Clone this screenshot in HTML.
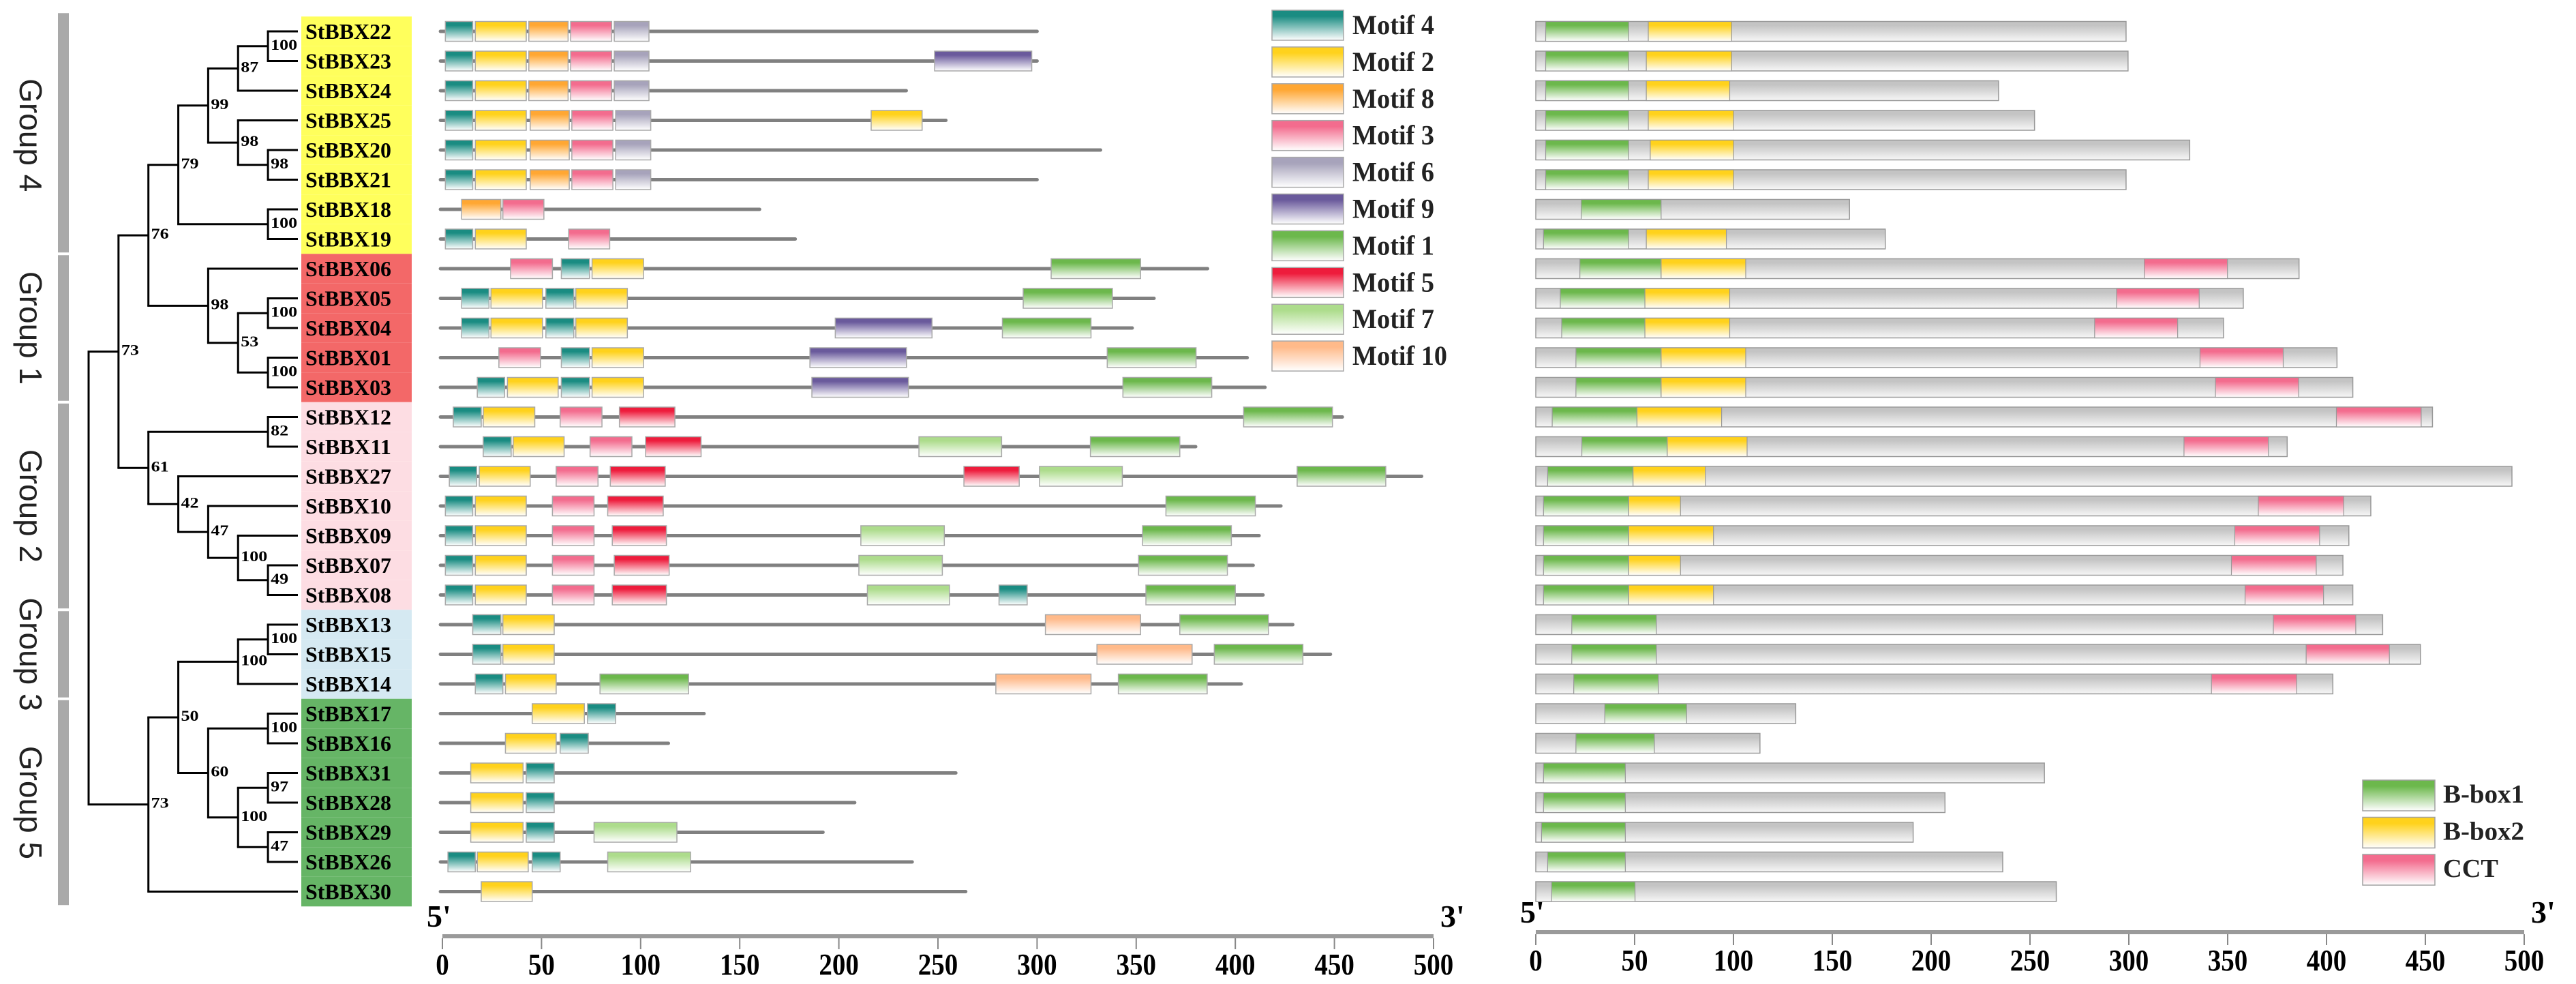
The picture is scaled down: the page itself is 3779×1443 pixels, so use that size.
<!DOCTYPE html>
<html><head><meta charset="utf-8">
<style>
html,body{margin:0;padding:0;background:#fff;}
svg{display:block;}
text{font-family:"Liberation Serif",serif;font-weight:bold;}
.sans{font-family:"Liberation Sans",sans-serif;font-weight:normal;}
</style></head>
<body>
<svg id="fig" xmlns="http://www.w3.org/2000/svg" width="3779" height="1443" viewBox="0 0 3779 1443">
<defs id="defs"></defs>
<g id="groups"></g>
<g id="tree"></g>
<g id="labels"></g>
<g id="left"></g>
<g id="right"></g>
<g id="legend"></g>
<g id="axes"></g>
</svg>
<script>
const genes = ["StBBX22","StBBX23","StBBX24","StBBX25","StBBX20","StBBX21","StBBX18","StBBX19","StBBX06","StBBX05","StBBX04","StBBX01","StBBX03","StBBX12","StBBX11","StBBX27","StBBX10","StBBX09","StBBX07","StBBX08","StBBX13","StBBX15","StBBX14","StBBX17","StBBX16","StBBX31","StBBX28","StBBX29","StBBX26","StBBX30"];
const geneGroup = [4,4,4,4,4,4,4,4,1,1,1,1,1,2,2,2,2,2,2,2,3,3,3,5,5,5,5,5,5,5];
const groupNames = ["Group 4","Group 1","Group 2","Group 3","Group 5"];
const groupIds = [4,1,2,3,5];
const motifLen = [300,300,234,254,332,300,160,178,386,359,348,406,415,454,380,494,423,412,409,414,429,448,403,132,114,259,208,192,237,264];
const motifs = [
 [[4,1.5,15.3],[2,16.6,42.3],[8,43.6,63.4],[3,64.7,85.4],[6,86.7,104.2]],
 [[4,1.5,15.3],[2,16.6,42.3],[8,43.6,63.4],[3,64.7,85.4],[6,86.7,104.2],[9,248.3,297.3]],
 [[4,1.5,15.3],[2,16.6,42.3],[8,43.6,63.4],[3,64.7,85.4],[6,86.7,104.2]],
 [[4,1.5,15.3],[2,16.6,42.3],[8,44.3,64],[3,65.3,86],[6,87.4,105.1],[2,216.3,242]],
 [[4,1.5,15.3],[2,16.6,42.3],[8,44.3,64],[3,65.3,86],[6,87.4,105.1]],
 [[4,1.5,15.3],[2,16.6,42.3],[8,44.3,64],[3,65.3,86],[6,87.4,105.1]],
 [[8,9.7,29.5],[3,30.5,51.2]],
 [[4,1.5,15.3],[2,16.6,42.3],[3,63.7,84.4]],
 [[3,34.4,55.5],[4,60,74.2],[2,75.5,101.5],[1,307.1,352.2]],
 [[4,9.7,23.5],[2,24.5,50.5],[4,52.2,66.3],[2,67.3,93.3],[1,293,338]],
 [[4,9.7,23.5],[2,24.5,50.5],[4,52.2,66.3],[2,67.3,93.3],[9,198.2,247],[1,282.5,327.2]],
 [[3,28.5,49.5],[4,60,74.2],[2,75.5,101.5],[9,185.4,234.1],[1,335.4,380.2]],
 [[4,17.6,31.4],[2,32.8,58.4],[4,60,74.2],[2,75.5,101.5],[9,186.4,235.1],[1,343.3,388.1]],
 [[4,5.5,19.6],[2,20.6,46.6],[3,59.4,80.5],[5,89.3,117.3],[1,404.2,449]],
 [[4,20.6,34.7],[2,35.7,61.4],[3,74.5,95.6],[5,102.5,130.5],[7,240.4,282.1],[1,326.9,372]],
 [[4,3.5,17.3],[2,18.6,44.3],[3,57.4,78.5],[5,84.7,112.4],[5,263.1,291],[7,301.2,343],[1,431.2,475.9]],
 [[4,1.5,15.3],[2,16.6,42.3],[3,55.5,76.5],[5,83.4,111.4],[1,365,410.1]],
 [[4,1.5,15.3],[2,16.6,42.3],[3,55.5,76.5],[5,85.7,113],[7,211.1,253.2],[1,353.2,398]],
 [[4,1.5,15.3],[2,16.6,42.3],[3,55.5,76.5],[5,86.7,114.4],[7,210.1,252.2],[1,351.2,396]],
 [[4,1.5,15.3],[2,16.6,42.3],[3,55.5,76.5],[5,85.7,113],[7,214.4,255.8],[4,280.8,295],[1,354.9,400]],
 [[4,15.3,29.5],[2,30.5,56.4],[10,304.2,352.2],[1,372,416.7]],
 [[4,15.3,29.5],[2,30.5,56.4],[10,330.2,378.2],[1,389.4,434.1]],
 [[4,16.6,30.5],[2,31.8,57.4],[1,79.5,124.2],[10,279.2,327.2],[1,341,385.8]],
 [[2,45.3,71.6],[4,73.2,87.4]],
 [[2,31.8,57.4],[4,59.4,73.6]],
 [[2,14.3,40.7],[4,42.3,56.4]],
 [[2,14.3,40.7],[4,42.3,56.4]],
 [[2,14.3,40.7],[4,42.3,56.4],[7,76.5,118.3]],
 [[4,2.8,16.6],[2,17.6,43.3],[4,45.3,59.4],[7,83.4,125.2]],
 [[2,19.6,45.3]]
];
const domLen = [298.6,299.6,234.1,252.3,330.8,298.6,158.7,176.8,386.1,357.9,347.9,405.3,413.3,453.6,380.1,493.8,422.4,411.3,408.3,413.3,428.4,447.5,403.2,131.5,113.4,257.3,207,190.9,236.2,263.3];
const domains = [
 [["b1",5.0,47.0],["b2",56.9,99.1]],
 [["b1",5.0,47.0],["b2",55.9,99.1]],
 [["b1",5.0,47.0],["b2",55.9,98.1]],
 [["b1",5.0,47.0],["b2",56.9,100.1]],
 [["b1",5.0,47.0],["b2",57.9,100.1]],
 [["b1",5.0,47.0],["b2",56.9,100.1]],
 [["b1",23.0,63.4]],
 [["b1",3.9,47.0],["b2",55.9,96.4]],
 [["b1",22.3,63.4],["b2",63.4,106.2],["cct",307.8,349.9]],
 [["b1",12.4,55.2],["b2",55.2,98.1],["cct",293.8,335.6]],
 [["b1",13.1,55.2],["b2",55.2,98.1],["cct",282.7,324.7]],
 [["b1",20.3,63.4],["b2",63.4,106.2],["cct",336.0,378.1]],
 [["b1",20.3,63.4],["b2",63.4,106.2],["cct",343.8,385.9]],
 [["b1",8.3,51.2],["b2",51.2,94.0],["cct",405.0,447.9]],
 [["b1",23.3,66.5],["b2",66.5,106.9],["cct",327.9,370.6]],
 [["b1",6.0,49.2],["b2",49.2,85.8]],
 [["b1",3.9,47.0],["b2",47.0,73.2],["cct",365.5,408.7]],
 [["b1",3.9,47.0],["b2",47.0,89.9],["cct",353.6,396.5]],
 [["b1",3.9,47.0],["b2",47.0,73.2],["cct",351.9,394.8]],
 [["b1",3.9,47.0],["b2",47.0,89.9],["cct",358.8,398.5]],
 [["b1",18.2,61.0],["cct",373.1,414.8]],
 [["b1",18.2,61.0],["cct",389.7,431.8]],
 [["b1",19.2,62.0],["cct",341.8,384.9]],
 [["b1",34.9,76.3]],
 [["b1",20.3,60.0]],
 [["b1",3.9,45.3]],
 [["b1",3.9,45.3]],
 [["b1",2.9,45.3]],
 [["b1",6.0,45.3]],
 [["b1",8.0,50.2]]
];
const ticks = [0,50,100,150,200,250,300,350,400,450,500];
const motifLegend = [4,2,8,3,6,9,1,5,7,10];
const domLegend = ["b1","b2","cct"];
const domLegendNames = ["B-box1","B-box2","CCT"];

const NS="http://www.w3.org/2000/svg";
function mk(tag,attrs,parent){const e=document.createElementNS(NS,tag);for(const k in attrs)e.setAttribute(k,attrs[k]);if(parent)parent.appendChild(e);return e;}
const colors={1:"#6cb84c",2:"#ffd21c",3:"#f36c8e",4:"#1a8c82",5:"#ee1c3c",6:"#a7a3bb",7:"#addc8c",8:"#ffa733",9:"#6a5a9c",10:"#ffba8a",b1:"#6cb84c",b2:"#ffd21c",cct:"#f36c8e",bar:"#c4c4c4"};
const defs=document.getElementById('defs');
for(const k in colors){
  const g=mk('linearGradient',{id:'g'+k,x1:0,y1:0,x2:0,y2:1},defs);
  mk('stop',{offset:'0','stop-color':colors[k]},g);
  mk('stop',{offset:'0.2','stop-color':colors[k]},g);
  mk('stop',{offset:'1','stop-color':k==='bar'?'#f7f7f7':'#ffffff'},g);
}
const rowY=i=>46+43.5*i;
const lx=v=>649+2.908*v;
const rx=v=>2253+2.9*v;
const BH=29;

const gG=document.getElementById('groups');
const gL=document.getElementById('labels');
const bg={4:"#ffff5c",1:"#f36868",2:"#fddde3",3:"#d5e9f2",5:"#66b566"};
groupIds.forEach((gid,k)=>{
  const rows=geneGroup.map((g,i)=>g===gid?i:-1).filter(i=>i>=0);
  const y0=rowY(rows[0])-21.75, y1=rowY(rows[rows.length-1])+21.75;
  const bar=mk('rect',{x:85,y:y0+(k===0?-5:2),width:16,height:y1-y0-(k===0?-5:2)-2,fill:'#a9a9a9'},gG);
  
  
  const cy=(y0+y1)/2;
  const t=mk('text',{x:45,y:cy,transform:`rotate(90 45 ${cy})`,'text-anchor':'middle','dominant-baseline':'central','font-size':46,fill:'#222',class:'sans'},gG);
  t.textContent=groupNames[k];
  
  
});
genes.forEach((name,i)=>{
  const r=mk('rect',{x:442,y:rowY(i)-21.75,width:162,height:43.5,fill:bg[geneGroup[i]]},gL);
  
  
  const t=mk('text',{x:448,y:rowY(i)+11,'font-size':32,textLength:126,lengthAdjust:'spacingAndGlyphs',fill:'#000'},gL);
  t.textContent=name;
  
  
});

const K={l:6,b:100,c:[0,1]},I={l:5,b:87,c:[K,2]},L={l:6,b:98,c:[4,5]},J={l:5,b:98,c:[3,L]},G={l:4,b:99,c:[I,J]},H={l:6,b:100,c:[6,7]},E={l:3,b:79,c:[G,H]};
const N={l:6,b:100,c:[9,10]},O={l:6,b:100,c:[11,12]},M={l:5,b:53,c:[N,O]},F={l:4,b:98,c:[8,M]},C={l:2,b:76,c:[E,F]};
const P={l:6,b:82,c:[13,14]},T={l:6,b:49,c:[18,19]},S={l:5,b:100,c:[17,T]},R={l:4,b:47,c:[16,S]},Q={l:3,b:42,c:[15,R]},D={l:2,b:61,c:[P,Q]},A={l:1,b:73,c:[C,D]};
const W={l:6,b:100,c:[20,21]},V={l:5,b:100,c:[W,22]},Y={l:6,b:100,c:[23,24]},AA={l:6,b:97,c:[25,26]},AB={l:6,b:47,c:[27,28]},Z={l:5,b:100,c:[AA,AB]},X={l:4,b:60,c:[Y,Z]},U={l:3,b:50,c:[V,X]},B={l:2,b:73,c:[U,29]};
const root={l:0,c:[A,B]};
const tx=l=>130+43.85*l;
const gT=document.getElementById('tree');
function draw(n){
  if(typeof n==='number') return {x:437,y:rowY(n)};
  const ch=n.c.map(draw);
  const x=tx(n.l);
  const y=(ch[0].y+ch[ch.length-1].y)/2;
  mk('line',{x1:x,y1:ch[0].y,x2:x,y2:ch[ch.length-1].y,stroke:'#000','stroke-width':3},gT);
  ch.forEach(c=>{const ln=mk('line',{x1:x-1.5,y1:c.y,x2:c.x,y2:c.y,stroke:'#000','stroke-width':3},gT);});
  if(n.b!==undefined){
    const s=String(n.b);
    const t=mk('text',{x:x+4,y:y+5,'font-size':22,textLength:13*s.length,lengthAdjust:'spacingAndGlyphs',fill:'#000'},gT);
    t.textContent=s;
    
    
  }
  return {x,y};
}
const rp=draw(root);
mk('line',{x1:rp.x-1,y1:rp.y,x2:rp.x+1,y2:rp.y,stroke:'#000','stroke-width':3},gT);

const gLeft=document.getElementById('left');
genes.forEach((name,i)=>{
  const y=rowY(i);
  const ln=mk('line',{x1:lx(-1),y1:y,x2:lx(motifLen[i]),y2:y,stroke:'#808080','stroke-width':5,'stroke-linecap':'round'},gLeft);
  
  
  motifs[i].forEach(m=>{
    const r=mk('rect',{x:lx(m[1]),y:y-BH/2,width:lx(m[2])-lx(m[1]),height:BH,fill:`url(#g${m[0]})`,stroke:'#a8a8a8','stroke-width':1.5},gLeft);
    
    
  });
});
const gRight=document.getElementById('right');
genes.forEach((name,i)=>{
  const y=rowY(i);
  const b=mk('rect',{x:rx(0),y:y-BH/2,width:rx(domLen[i])-rx(0),height:BH,fill:'url(#gbar)',stroke:'#999','stroke-width':1.5},gRight);
  
  
  domains[i].forEach(d=>{
    const r=mk('rect',{x:rx(d[1]),y:y-BH/2,width:rx(d[2])-rx(d[1]),height:BH,fill:`url(#g${d[0]})`,stroke:'#999','stroke-width':1.2},gRight);
    
    
  });
});
const gLeg=document.getElementById('legend');
motifLegend.forEach((m,k)=>{
  const y=15+53.9*k;
  const r=mk('rect',{x:1866,y:y,width:105,height:44,fill:`url(#g${m})`,stroke:'#a8a8a8','stroke-width':1.5},gLeg);
  
  
  const s='Motif '+m;
  const t=mk('text',{x:1984,y:y+35,'font-size':40,textLength:m===10?139:120,lengthAdjust:'spacingAndGlyphs',fill:'#222'},gLeg);
  t.textContent=s;
  
  
});
domLegend.forEach((d,k)=>{
  const y=1144+54.5*k;
  const r=mk('rect',{x:3466,y:y,width:106,height:45,fill:`url(#g${d})`,stroke:'#a0a0a0','stroke-width':1.5},gLeg);
  
  
  const t=mk('text',{x:3584,y:y+33,'font-size':38,textLength:d==='cct'?81:119,lengthAdjust:'spacingAndGlyphs',fill:'#222'},gLeg);
  t.textContent=domLegendNames[k];
  
  
});
const gA=document.getElementById('axes');
function axis(sx,yl,prefix){
  const l=mk('line',{x1:sx(0),y1:yl,x2:sx(500),y2:yl,stroke:'#9a9a9a','stroke-width':6},gA);
  
  
  ticks.forEach(v=>{
    const tk=mk('line',{x1:sx(v),y1:yl+3,x2:sx(v),y2:yl+19,stroke:'#888','stroke-width':2},gA);
    
    
    const s=String(v);
    const t=mk('text',{x:sx(v),y:yl+56,'text-anchor':'middle','font-size':44,textLength:s.length*19.5,lengthAdjust:'spacingAndGlyphs',fill:'#000'},gA);
    t.textContent=s;
    
    
  });
  const a=mk('text',{x:sx(0)-23,y:yl-14,'font-size':46,fill:'#000'},gA);
  a.textContent="5'";
  
  
  const b=mk('text',{x:sx(500)+10,y:yl-14,'font-size':46,fill:'#000'},gA);
  b.textContent="3'";
  
  
}
axis(lx,1373,'left');
axis(rx,1367,'right');
</script>
</body></html>
